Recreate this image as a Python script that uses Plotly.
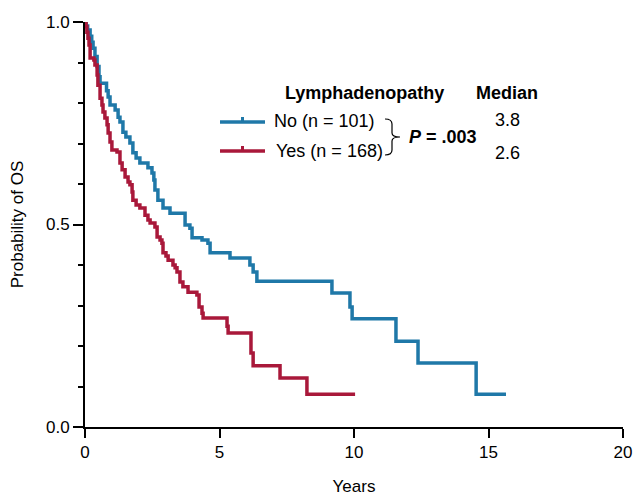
import plotly.graph_objects as go

# ---- data ----
no_label = "No (n = 101)"
yes_label = "Yes (n = 168)"
no_median = "3.8"
yes_median = "2.6"
p_text = "<b><i>P</i> = .003</b>"

no_t = [0, 0.04, 0.10, 0.19, 0.25, 0.30, 0.37, 0.45, 0.52, 0.56, 0.80, 0.86, 0.93,
        1.12, 1.23, 1.30, 1.41, 1.52, 1.67, 1.78, 1.90, 2.04, 2.34, 2.49, 2.56,
        2.60, 2.71, 2.90, 3.16, 3.72, 3.90, 3.98, 4.35, 4.57, 4.65, 5.39, 6.13,
        6.25, 6.39, 9.18, 9.85, 9.93, 11.56, 12.38, 14.54, 15.65]
no_s = [1.0, 0.99, 0.98, 0.965, 0.95, 0.935, 0.915, 0.89, 0.865, 0.849, 0.83, 0.815, 0.795,
        0.783, 0.765, 0.753, 0.728, 0.716, 0.701, 0.677, 0.664, 0.652, 0.640, 0.627, 0.610,
        0.585, 0.560, 0.541, 0.528, 0.499, 0.491, 0.467, 0.462, 0.454, 0.430, 0.417, 0.400,
        0.383, 0.360, 0.331, 0.296, 0.267, 0.212, 0.158, 0.081, 0.081]

yes_t = [0, 0.04, 0.07, 0.11, 0.15, 0.19, 0.33, 0.37, 0.45, 0.48, 0.56, 0.63, 0.67,
         0.74, 0.82, 0.86, 0.93, 1.00, 1.19, 1.30, 1.38, 1.49, 1.60, 1.67, 1.75,
         1.78, 1.90, 2.04, 2.23, 2.34, 2.42, 2.60, 2.68, 2.79, 2.86, 2.90, 3.01,
         3.09, 3.27, 3.35, 3.42, 3.53, 3.64, 3.83, 4.16, 4.24, 4.35, 4.39, 5.28,
         5.32, 6.17, 6.25, 7.25, 8.25, 10.04]
yes_s = [1.0, 0.988, 0.975, 0.96, 0.943, 0.911, 0.906, 0.894, 0.869, 0.844, 0.812, 0.795, 0.778,
         0.763, 0.746, 0.726, 0.704, 0.684, 0.679, 0.652, 0.635, 0.617, 0.605, 0.598, 0.580,
         0.560, 0.548, 0.541, 0.523, 0.511, 0.504, 0.494, 0.469, 0.462, 0.454, 0.430, 0.422,
         0.412, 0.400, 0.393, 0.383, 0.358, 0.346, 0.333, 0.326, 0.296, 0.281, 0.269, 0.249,
         0.232, 0.183, 0.151, 0.121, 0.081, 0.081]

x_ticks = [0, 5, 10, 15, 20]
y_ticks = [0.0, 0.5, 1.0]
y_tick_text = ["0.0", "0.5", "1.0"]

BLUE = "#1F78A8"
RED = "#A9183A"
FONT = "Liberation Sans, Arial, sans-serif"

fig = go.Figure()
fig.add_trace(go.Scatter(x=no_t, y=no_s, mode="lines", line=dict(color=BLUE, width=3.5, shape="hv"),
                         showlegend=False, name=no_label))
fig.add_trace(go.Scatter(x=yes_t, y=yes_s, mode="lines", line=dict(color=RED, width=3.5, shape="hv"),
                         showlegend=False, name=yes_label))

# custom legend (paper coordinates)
W, H = 538.0, 405.0
def px(x):
    return (x - 85) / W
def py(y):
    return (427 - y) / H

shapes = []
for col, yy in [(BLUE, 122), (RED, 151)]:
    shapes.append(dict(type="line", xref="paper", yref="paper", x0=px(220), x1=px(265), y0=py(yy), y1=py(yy),
                       line=dict(color=col, width=3.5)))
    shapes.append(dict(type="line", xref="paper", yref="paper", x0=px(242.5), x1=px(242.5), y0=py(yy), y1=py(yy - 5),
                       line=dict(color=col, width=3)))
# brace
bx0, bx1, bx2 = px(385), px(392), px(400)
path = (f"M {bx0},{py(119)} Q {bx1},{py(119)} {bx1},{py(124)} L {bx1},{py(133)} "
        f"Q {bx1},{py(137)} {bx2},{py(137)} Q {bx1},{py(137)} {bx1},{py(141)} "
        f"L {bx1},{py(150)} Q {bx1},{py(155)} {bx0},{py(155)}")
shapes.append(dict(type="path", xref="paper", yref="paper", path=path, line=dict(color="black", width=1.2)))

ann = []
def add(text, x, y, xanchor="left", bold=False):
    ann.append(dict(text=("<b>%s</b>" % text) if bold else text, xref="paper", yref="paper",
                    x=px(x), y=py(y), xanchor=xanchor, yanchor="middle", showarrow=False,
                    font=dict(family=FONT, size=18, color="black")))
add("Lymphadenopathy", 364, 93, "center", True)
add("Median", 507, 93, "center", True)
add(no_label, 272, 121)
add(yes_label, 274, 151)
add(no_median, 507, 120, "center")
add(yes_median, 507, 153, "center")
add(p_text, 407, 137)

fig.update_layout(
    width=634, height=496,
    margin=dict(l=85, r=11, t=22, b=69, autoexpand=False),
    paper_bgcolor="white", plot_bgcolor="white",
    font=dict(family=FONT, size=17, color="black"),
    shapes=shapes, annotations=ann,
)
fig.update_xaxes(range=[0, 20], tickvals=x_ticks, showgrid=False, zeroline=False, automargin=False,
                 showline=True, linecolor="black", linewidth=2,
                 ticks="outside", ticklen=9, tickwidth=2, tickcolor="black",
                 tickfont=dict(size=17, family=FONT),
                 title=dict(text="Years", font=dict(size=17, family=FONT), standoff=32))
fig.update_yaxes(range=[0, 1], tickvals=y_ticks, ticktext=y_tick_text, showgrid=False, zeroline=False,
                 automargin=False,
                 showline=True, linecolor="black", linewidth=2,
                 ticks="outside", ticklen=10, tickwidth=2, tickcolor="black",
                 tickfont=dict(size=17, family=FONT),
                 minor=dict(dtick=0.1, ticks="outside", ticklen=5, tickwidth=2, tickcolor="black", showgrid=False),
                 title=dict(text="Probability of OS", font=dict(size=17, family=FONT), standoff=18))

fig.write_html("out.html", config={"displayModeBar": False},
               post_script="document.body.style.margin='0';document.body.style.overflow='hidden';")
